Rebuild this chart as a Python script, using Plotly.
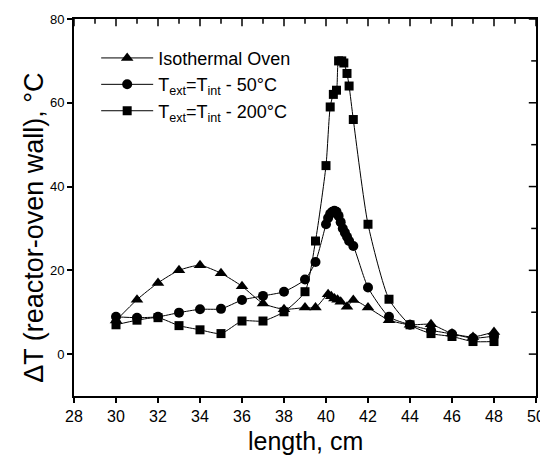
import plotly.graph_objects as go

# Isothermal Oven (triangles)
x_iso = [30, 31, 32, 33, 34, 35, 36, 37, 38, 39, 39.5, 40.1, 40.25, 40.4, 40.55, 40.7, 41.0, 41.3, 42, 43, 44, 45, 46, 47, 48]
y_iso = [8, 13, 17, 20, 21.2, 19.3, 16.2, 12.1, 10.7, 11.1, 11.1, 14.3, 13.8, 13.3, 13.0, 12.5, 11.3, 12.9, 11.1, 8.1, 7, 7.1, 4.9, 4.1, 5.3]

# Text = Tint - 50 C (circles)
x_50 = [30, 31, 32, 33, 34, 35, 36, 37, 38, 39, 39.5, 40.0, 40.1, 40.2, 40.3, 40.4, 40.5, 40.6, 40.7, 40.8, 40.9, 41.0, 41.1, 41.3, 42, 43, 44, 45, 46, 47, 48]
y_50 = [8.9, 8.7, 8.9, 9.9, 10.7, 10.8, 12.9, 13.9, 14.9, 17.8, 22.0, 31, 32.5, 33.5, 34, 34.2, 34, 33, 31.5, 30, 29, 28, 27, 25.8, 15.9, 8.9, 7, 5.7, 4.8, 3.8, 4.3]

# Text = Tint - 200 C (squares)
x_200 = [30, 31, 32, 33, 34, 35, 36, 37, 38, 39, 39.5, 40.0, 40.2, 40.35, 40.5, 40.6, 40.75, 40.85, 41.0, 41.1, 41.3, 42, 43, 44, 45, 46, 47, 48]
y_200 = [7, 8.1, 8.7, 6.8, 5.8, 4.9, 7.9, 7.9, 10.1, 14.9, 27, 45, 59, 62, 63, 70, 70, 69.5, 67, 64, 56, 31, 13.1, 7, 4.9, 4.2, 3.0, 3.0]

names = ["Isothermal Oven",
         "T<sub>ext</sub>=T<sub>int</sub> - 50°C",
         "T<sub>ext</sub>=T<sub>int</sub> - 200°C"]

x_range = [28, 50]
y_range = [-10, 80]
x_major = list(range(28, 51, 2))
x_minor = list(range(29, 50, 2))
y_major = [0, 20, 40, 60, 80]
y_minor = [10, 30, 50, 70]
x_title = "length, cm"
y_title = "ΔT (reactor-oven wall), °C"

W, H = 540, 456
M = dict(l=66, r=12, t=11, b=68)
plot_w = W - M["l"] - M["r"]
plot_h = H - M["t"] - M["b"]
ux = plot_w / (x_range[1] - x_range[0])   # px per x unit
uy = plot_h / (y_range[1] - y_range[0])   # px per y unit

fig = go.Figure()
series = [(x_iso, y_iso, "triangle-up", 11),
          (x_50, y_50, "circle", 10),
          (x_200, y_200, "square", 9)]
for (xs, ys, sym, sz), nm in zip(series, names):
    fig.add_trace(go.Scatter(
        x=xs, y=ys, name=nm, mode="lines+markers",
        line=dict(color="black", width=1, shape="spline", smoothing=0.6),
        marker=dict(symbol=sym, size=sz, color="black"),
    ))

x0, x1 = x_range
y0, y1 = y_range


def tick_marks(xs, ys, sym, size):
    fig.add_trace(go.Scatter(
        x=xs, y=ys, mode="markers", cliponaxis=False,
        marker=dict(symbol=sym, size=size, color="black",
                    line=dict(color="black", width=1.5)),
        showlegend=False, hoverinfo="skip"))


# minor ticks, outward on bottom / left
tick_marks(x_minor, [y0 - 2 / uy] * len(x_minor), "line-ns", 4)
tick_marks([x0 - 2 / ux] * len(y_minor), y_minor, "line-ew", 4)
# inward ticks on top / right
tick_marks(x_major, [y1 - 3 / uy] * len(x_major), "line-ns", 6)
tick_marks(x_minor, [y1 - 2 / uy] * len(x_minor), "line-ns", 4)
tick_marks([x1 - 3 / ux] * len(y_major), y_major, "line-ew", 6)
tick_marks([x1 - 2 / ux] * len(y_minor), y_minor, "line-ew", 4)

font_family = "Liberation Sans, Arial, sans-serif"
axis_common = dict(showgrid=False, zeroline=False, automargin=False,
                   showline=True, mirror=True, linecolor="black", linewidth=2,
                   ticklen=5, tickwidth=1.5, tickcolor="black", ticks="outside")

fig.update_layout(
    width=W, height=H,
    margin=M,
    paper_bgcolor="white", plot_bgcolor="white",
    font=dict(family=font_family, color="black", size=14),
    showlegend=True,
    legend=dict(x=0.048, y=0.945, xanchor="left", yanchor="top",
                bgcolor="rgba(0,0,0,0)", font=dict(size=18),
                tracegroupgap=0, itemwidth=52),
    xaxis=dict(range=x_range, tickvals=x_major, tickfont=dict(size=16), **axis_common),
    yaxis=dict(range=y_range, tickvals=y_major, tickfont=dict(size=13), **axis_common),
    annotations=[
        dict(text=x_title, xref="paper", yref="paper", x=0.5, y=0,
             xanchor="center", yanchor="middle", yshift=-45, showarrow=False,
             font=dict(size=25)),
        dict(text=y_title, xref="paper", yref="paper", x=0, y=0.446,
             xanchor="center", yanchor="middle", xshift=-40, showarrow=False,
             textangle=-90, font=dict(size=27)),
    ],
)

fig.write_html("out.html")
